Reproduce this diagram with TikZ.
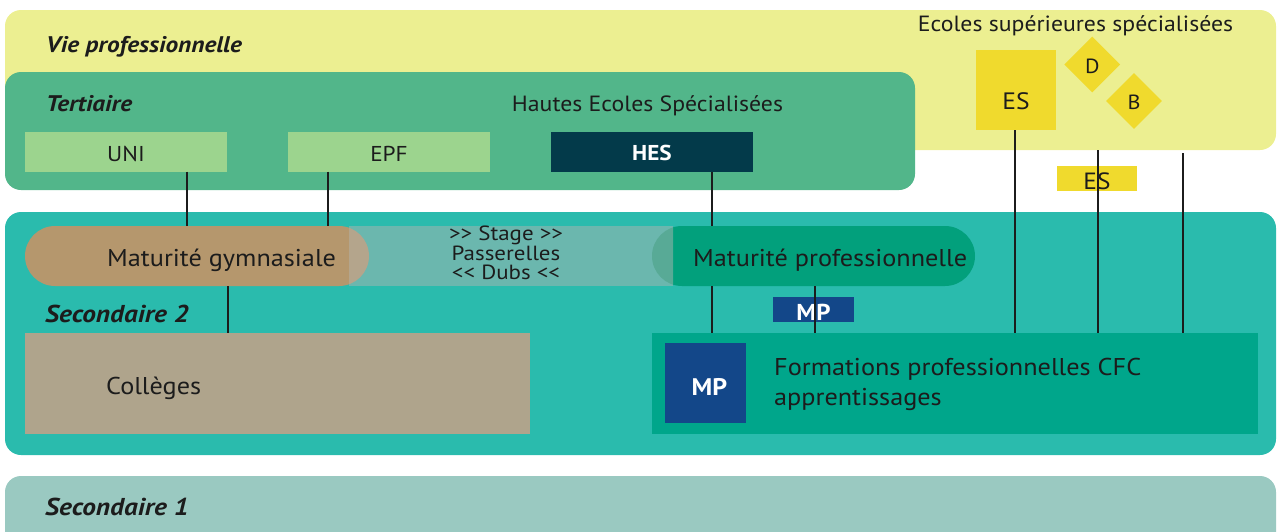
\documentclass[tikz,border=0pt]{standalone}
\usepackage{fontspec}
\setmainfont{PT Sans}[FakeStretch=1.08]
\newfontfamily\ttlfont{PT Sans}[FakeStretch=1.12]
\newfontfamily\passfont{PT Sans}[FakeStretch=1.12]
\usetikzlibrary{shapes.geometric,calc}
\definecolor{viec}{RGB}{236,239,145}
\definecolor{tertc}{RGB}{82,182,138}
\definecolor{unic}{RGB}{156,212,142}
\definecolor{hesc}{RGB}{3,58,74}
\definecolor{esc}{RGB}{240,218,45}
\definecolor{secdc}{RGB}{42,187,173}
\definecolor{matgc}{RGB}{181,151,109}
\definecolor{matgl}{RGB}{180,165,140}
\definecolor{stripc}{RGB}{107,183,174}
\definecolor{matpc}{RGB}{2,160,124}
\definecolor{matpl}{RGB}{88,170,150}
\definecolor{collc}{RGB}{175,164,140}
\definecolor{formc}{RGB}{0,166,139}
\definecolor{mpc}{RGB}{19,71,137}
\definecolor{secuc}{RGB}{154,201,193}
\definecolor{txtc}{RGB}{28,28,28}
\begin{document}
\begin{tikzpicture}[x=1pt,y=-1pt,
  blk/.style={anchor=north west, inner sep=0pt, outer sep=0pt, text=txtc},
  band/.style={blk, rounded corners=16pt},
  ttl/.style={anchor=base west, inner sep=0pt, text=txtc, font=\ttlfont\fontsize{22.6}{24}\selectfont\bfseries\itshape},
  ttlb/.style={ttl, font=\ttlfont\fontsize{24.4}{26}\selectfont\bfseries\itshape},
  lbl/.style={inner sep=0pt, text=txtc, font=\fontsize{22}{24}\selectfont},
  big/.style={inner sep=0pt, text=txtc, font=\fontsize{24.3}{30}\selectfont},
  wht/.style={text=white},
  dia/.style={diamond, fill=esc, inner sep=0pt, minimum width=56pt, minimum height=56pt, text=txtc, font=\fontsize{20.5}{22}\selectfont, text depth=0pt},
  conn/.style={draw=txtc, line width=1.8pt}
]
\useasboundingbox (0,0) rectangle (1278,531);
% bands
\node[band, fill=viec, minimum width=1271pt, minimum height=140pt] (vie) at (5,10) {};
\node[band, fill=tertc, minimum width=910pt, minimum height=118pt] (tert) at (5,72) {};
\node[band, fill=secdc, minimum width=1271pt, minimum height=243pt] (secd) at (5,212) {};
\node[band, fill=secuc, minimum width=1271pt, minimum height=90pt] (secu) at (5,476) {};
% titles
\node[ttl] (tvie) at (46,52) {Vie professionnelle};
\node[ttl] (ttert) at (46,111) {Tertiaire};
\node[ttlb] (tsecd) at (45,322.7) {Secondaire 2};
\node[ttlb] (tsecu) at (45,515) {Secondaire 1};
\node[lbl, anchor=base] (thes) at (647.5,111) {Hautes Ecoles Spécialisées};
\node[lbl, anchor=base] (tess) at (1075.5,31) {Ecoles supérieures spécialisées};
% tertiary boxes
\node[blk, fill=unic, minimum width=202pt, minimum height=40pt, font=\fontsize{21.5}{22}\selectfont, text height=19pt, text depth=0pt] (uni) at (25,131.5) {UNI};
\node[blk, fill=unic, minimum width=202pt, minimum height=40pt, font=\fontsize{21.5}{22}\selectfont, text height=19pt, text depth=0pt] (epf) at (288,131.5) {EPF};
\node[blk, fill=hesc, minimum width=202pt, minimum height=40pt, wht, font=\fontsize{21.5}{22}\selectfont\bfseries, text height=17pt, text depth=0pt] (hes) at (551,131.5) {HES};
% ES
\node[blk, fill=esc, minimum width=80pt, minimum height=80pt, font=\fontsize{23.7}{24}\selectfont, text height=38pt, text depth=0pt] (esb) at (976,50) {ES};
\node[dia, text height=17.6pt] (dd) at (1092.3,64.5) {D};
\node[dia, text height=16pt] (bb) at (1134,101) {B};
\node[blk, fill=esc, minimum width=80pt, minimum height=25pt, font=\fontsize{23.5}{24}\selectfont, text height=21pt, text depth=0pt] (ess) at (1057,166) {ES};
% pills
\node[blk, fill=matgc, rounded corners=30pt, minimum width=344pt, minimum height=60pt] (matg) at (25,226) {};
\node[blk, fill=matpc, rounded corners=30pt, minimum width=323pt, minimum height=60pt] (matp) at (652,226) {};
\node[blk, fill=stripc, minimum width=324pt, minimum height=60pt] (strip) at (349,226) {};
\begin{scope}
  \clip (strip.north west) rectangle (strip.south east);
  \fill[matgl, rounded corners=30pt] (matg.north west) rectangle (matg.south east);
  \fill[matpl, rounded corners=30pt] (matp.north west) rectangle (matp.south east);
\end{scope}
\node[big, anchor=base west] (tmatg) at (107,266.7) {Maturité gymnasiale};
\node[big, anchor=base west] (tmatp) at (693,266.7) {Maturité professionnelle};
\node[lbl, align=center, anchor=base, font=\passfont\fontsize{20.5}{18.3}\selectfont] (tpass) at (506,279) {>\kern0pt> Stage >\kern0pt>\\Passerelles\\<\kern0pt< Dubs <\kern0pt<};
% secondary boxes
\node[blk, fill=collc, minimum width=505pt, minimum height=101pt] (coll) at (25,333) {};
\node[big, anchor=base west] (tcoll) at (106,394) {Collèges};
\node[blk, fill=formc, minimum width=606pt, minimum height=101pt] (form) at (652,333) {};
\node[big, anchor=base west, align=left] (tform) at (774,405) {Formations professionnelles CFC\\apprentissages};
\node[blk, fill=mpc, minimum width=81pt, minimum height=80pt, wht, font=\fontsize{24}{26}\selectfont\bfseries, text height=24pt, text depth=0pt] (mpb) at (665,343) {\hspace*{8pt}MP};
\node[blk, fill=mpc, minimum width=81pt, minimum height=25pt, wht, font=\fontsize{23}{24}\selectfont\bfseries, text height=21pt, text depth=0pt] (mps) at (773,297) {MP};
% connector x positions
\coordinate (x1) at (187,0);
\coordinate (x2) at (328,0);
\coordinate (x3) at (712,0);
\coordinate (x4) at (228,0);
\coordinate (x5) at (815,0);
\coordinate (x6) at (1015,0);
\coordinate (x7) at (1098,0);
\coordinate (x8) at (1183,0);
% connectors
\draw[conn] (uni.south -| x1) -- (matg.north -| x1);
\draw[conn] (epf.south -| x2) -- (matg.north -| x2);
\draw[conn] (hes.south -| x3) -- (matp.north -| x3);
\draw[conn] (matg.south -| x4) -- (coll.north -| x4);
\draw[conn] (matp.south -| x3) -- (form.north -| x3);
\draw[conn] (matp.south -| x5) -- (form.north -| x5);
\draw[conn] (esb.south -| x6) -- (form.north -| x6);
\draw[conn] (vie.south -| x7) -- (form.north -| x7);
\draw[conn] ([yshift=-3pt]vie.south -| x8) -- (form.north -| x8);
\end{tikzpicture}
\end{document}
